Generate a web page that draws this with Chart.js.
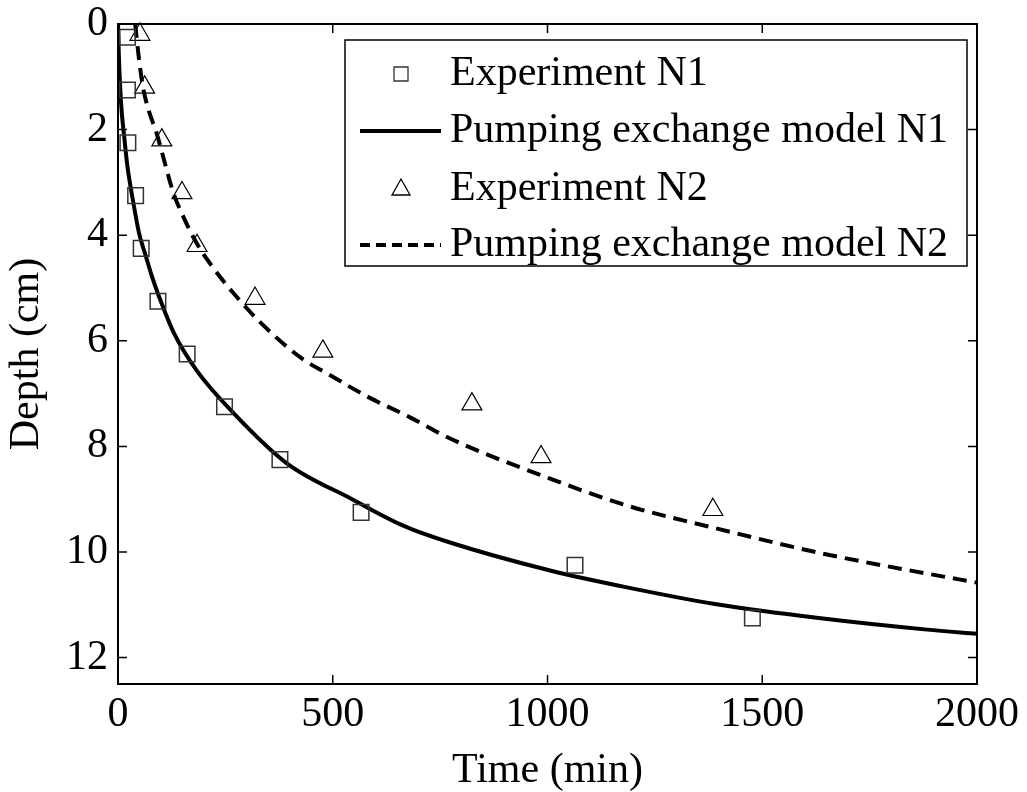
<!DOCTYPE html>
<html>
<head>
<meta charset="utf-8">
<title>Depth vs time</title>
<script src="https://cdn.jsdelivr.net/npm/chart.js@4.4.1/dist/chart.umd.min.js"></script>
<style>
  html, body { margin: 0; padding: 0; background: #fff; }
  #chart { display: block; }
</style>
</head>
<body>
<canvas id="chart" width="1027" height="792"></canvas>
<script>
// measured points, time in min, depth in cm
const expN1Time = [22, 22, 23, 41, 54, 93, 161, 248, 377, 566, 1064, 1477];
const expN1Depth = [0.25, 1.25, 2.25, 3.25, 4.25, 5.25, 6.25, 7.25, 8.25, 9.25, 10.25, 11.25];

const expN2Time = [51, 62, 102, 149, 184, 319, 477, 824, 985, 1385];
const expN2Depth = [0.2, 1.2, 2.2, 3.2, 4.2, 5.2, 6.2, 7.2, 8.2, 9.2];

// pumping exchange model curves
const modelN1Time = [0, 2, 5, 9, 14, 22, 35, 49, 65, 79, 95, 130, 183, 269, 393, 545, 664, 773, 1006, 1185, 1386, 1641, 1884, 2000];
const modelN1Depth = [0, 0.6, 1.2, 1.7, 2.1, 2.7, 3.35, 3.96, 4.4, 4.78, 5.15, 5.85, 6.56, 7.37, 8.32, 9.0, 9.5, 9.82, 10.35, 10.67, 10.98, 11.26, 11.47, 11.55];

const modelN2Time = [40, 48, 58, 72, 90, 108, 129, 155, 183, 220, 269, 335, 424, 500, 579, 680, 773, 1006, 1185, 1386, 1641, 1884, 2000];
const modelN2Depth = [0, 0.6, 1.19, 1.65, 2.07, 2.6, 3.2, 3.7, 4.15, 4.6, 5.1, 5.68, 6.31, 6.68, 7.05, 7.45, 7.85, 8.61, 9.12, 9.54, 10.03, 10.41, 10.58];

const seriesLabels = ['Experiment N1', 'Pumping exchange model N1', 'Experiment N2', 'Pumping exchange model N2'];
const xTicks = [0, 500, 1000, 1500, 2000];
const yTicks = [0, 2, 4, 6, 8, 10, 12];

const FONT = '"Liberation Serif", "Times New Roman", serif';
const toXY = (xs, ys) => xs.map((x, i) => ({ x: x, y: ys[i] }));

// box around the plot with inward tick marks on all four sides
const boxTicks = {
  id: 'boxTicks',
  afterDraw(chart) {
    const { ctx, chartArea: a, scales } = chart;
    const len = 9;
    ctx.save();
    ctx.strokeStyle = '#000';
    ctx.lineWidth = 2;
    ctx.strokeRect(a.left, a.top, a.right - a.left, a.bottom - a.top);
    ctx.lineWidth = 1.5;
    ctx.beginPath();
    xTicks.forEach(v => {
      const px = scales.x.getPixelForValue(v);
      ctx.moveTo(px, a.bottom); ctx.lineTo(px, a.bottom - len);
      ctx.moveTo(px, a.top); ctx.lineTo(px, a.top + len);
    });
    yTicks.forEach(v => {
      const py = scales.y.getPixelForValue(v);
      ctx.moveTo(a.left, py); ctx.lineTo(a.left + len, py);
      ctx.moveTo(a.right, py); ctx.lineTo(a.right - len, py);
    });
    ctx.stroke();
    ctx.restore();
  }
};

// boxed legend in the upper right of the plot
const boxLegend = {
  id: 'boxLegend',
  afterDraw(chart) {
    const ctx = chart.ctx;
    const box = { left: 345, top: 40, right: 967, bottom: 266 };
    const rows = [74, 131, 189, 245];
    ctx.save();
    ctx.fillStyle = '#fff';
    ctx.fillRect(box.left, box.top, box.right - box.left, box.bottom - box.top);
    ctx.strokeStyle = '#000';
    ctx.lineWidth = 1.5;
    ctx.strokeRect(box.left, box.top, box.right - box.left, box.bottom - box.top);

    chart.data.datasets.forEach((ds, i) => {
      const y = rows[i];
      if (ds.showLine) {
        ctx.beginPath();
        ctx.lineWidth = 4;
        ctx.setLineDash(ds.borderDash ? [10, 6] : []);
        ctx.moveTo(360, y);
        ctx.lineTo(441, y);
        ctx.stroke();
        ctx.setLineDash([]);
      } else {
        ctx.lineWidth = 1.3;
        ctx.strokeStyle = ds.borderColor;
        ctx.beginPath();
        if (ds.pointStyle === 'rect') {
          ctx.rect(394, y - 7, 14, 14);
        } else {
          ctx.moveTo(401, y - 10);
          ctx.lineTo(410, y + 6);
          ctx.lineTo(392, y + 6);
          ctx.closePath();
        }
        ctx.stroke();
        ctx.strokeStyle = '#000';
      }
      ctx.fillStyle = '#000';
      ctx.font = '42px ' + FONT;
      ctx.textBaseline = 'middle';
      ctx.textAlign = 'left';
      ctx.fillText(ds.label, 450, y);
    });
    ctx.restore();
  }
};

new Chart(document.getElementById('chart'), {
  type: 'scatter',
  data: {
    datasets: [
      {
        label: seriesLabels[0],
        data: toXY(expN1Time, expN1Depth),
        pointStyle: 'rect',
        pointRadius: 11,
        pointBorderWidth: 1.5,
        borderColor: '#333',
        backgroundColor: 'rgba(0,0,0,0)',
        clip: false
      },
      {
        label: seriesLabels[1],
        data: toXY(modelN1Time, modelN1Depth),
        showLine: true,
        pointRadius: 0,
        borderColor: '#000',
        borderWidth: 4,
        cubicInterpolationMode: 'monotone'
      },
      {
        label: seriesLabels[2],
        data: toXY(expN2Time, expN2Depth),
        pointStyle: 'triangle',
        pointRadius: 11.5,
        pointBorderWidth: 1.2,
        borderColor: '#000',
        backgroundColor: 'rgba(0,0,0,0)',
        clip: false
      },
      {
        label: seriesLabels[3],
        data: toXY(modelN2Time, modelN2Depth),
        showLine: true,
        pointRadius: 0,
        borderColor: '#000',
        borderWidth: 4,
        borderDash: [14, 8],
        cubicInterpolationMode: 'monotone'
      }
    ]
  },
  options: {
    responsive: false,
    animation: false,
    layout: { padding: { top: 24, right: 50, left: 0, bottom: 0 } },
    plugins: {
      legend: { display: false },
      tooltip: { enabled: false }
    },
    scales: {
      x: {
        type: 'linear',
        min: 0,
        max: 2000,
        afterBuildTicks: scale => { scale.ticks = xTicks.map(v => ({ value: v })); },
        afterFit: scale => {
          scale.height = 108;
          scale.paddingLeft = 0;
          scale.paddingRight = 0;
        },
        grid: { display: false, drawTicks: false },
        border: { display: false },
        ticks: {
          color: '#000',
          padding: 10,
          maxRotation: 0,
          callback: v => String(v),
          font: { family: FONT, size: 42, lineHeight: 1 }
        },
        title: {
          display: true,
          text: 'Time (min)',
          color: '#000',
          padding: { top: 0, bottom: 0 },
          font: { family: FONT, size: 42, lineHeight: 1 }
        }
      },
      y: {
        type: 'linear',
        reverse: true,
        min: 0,
        max: 12.5,
        afterBuildTicks: scale => { scale.ticks = yTicks.map(v => ({ value: v })); },
        afterFit: scale => {
          scale.width = 118;
          scale.paddingTop = 0;
          scale.paddingBottom = 0;
        },
        grid: { display: false, drawTicks: false },
        border: { display: false },
        ticks: {
          color: '#000',
          padding: 10,
          callback: v => String(v),
          font: { family: FONT, size: 42, lineHeight: 1 }
        },
        title: {
          display: true,
          text: 'Depth (cm)',
          color: '#000',
          padding: { top: 6, bottom: 0 },
          font: { family: FONT, size: 42, lineHeight: 1 }
        }
      }
    }
  },
  plugins: [boxTicks, boxLegend]
});
</script>
</body>
</html>
